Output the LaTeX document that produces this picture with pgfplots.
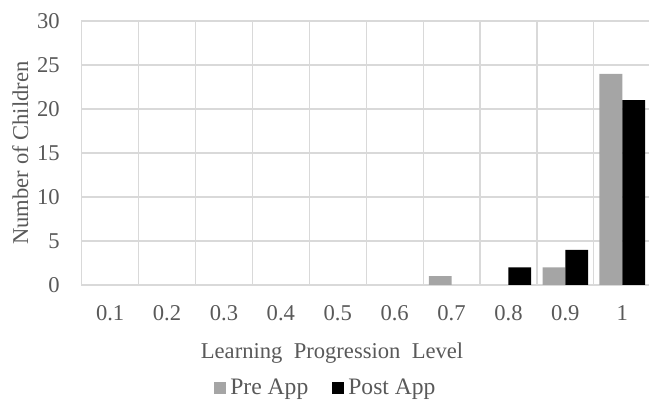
\documentclass[border=0pt]{standalone}
\usepackage{fontspec}
\setmainfont{Liberation Serif}
\usepackage{pgfplots}
\pgfplotsset{compat=1.18}
\definecolor{gridgray}{HTML}{D9D9D9}
\definecolor{txtgray}{HTML}{595959}
\definecolor{pregray}{HTML}{A5A5A5}
\begin{document}
\fontsize{11.3pt}{13.6pt}\selectfont
\begin{tikzpicture}
\path[use as bounding box] (0,0) rectangle (324.5pt,200.5pt);
\begin{axis}[
  at={(40.85pt,58pt)}, anchor=south west,
  scale only axis, width=284.5pt, height=132pt,
  xmin=-0.5, xmax=9.5, ymin=0, ymax=30,
  ytick={0,5,...,30},
  xtick={0,...,9},
  xticklabels={0.1,0.2,0.3,0.4,0.5,0.6,0.7,0.8,0.9,1},
  minor xtick={-0.5,0.5,...,9.5},
  xminorgrids, ymajorgrids,
  grid style={draw=gridgray, line width=0.6pt},
  minor grid style={draw=gridgray, line width=0.6pt},
  axis line style={draw=gridgray, line width=0.6pt},
  major tick length=0pt, minor tick length=0pt,
  tick style={draw=none},
  /pgf/number format/assume math mode=true,
  ticklabel style={font=\fontsize{11.3pt}{13pt}\selectfont, text=txtgray},
  yticklabel style={xshift=-7pt},
  xticklabel style={yshift=-6.2pt},
  xlabel={Learning\hspace{0.5em}Progression\hspace{0.5em}Level},
  ylabel={Number of Children},
  label style={font=\fontsize{11.3pt}{13pt}\selectfont, text=txtgray},
  xlabel style={at={(axis description cs:0.440,-0.258)}, anchor=center},
  ylabel style={at={(axis description cs:-0.080,0.5)}, anchor=south, rotate=0},
  ybar=0pt, bar width=0.4,
  legend columns=2,
  legend style={at={(axis description cs:0.431,-0.39)}, anchor=center, draw=none, fill=none,
    font=\fontsize{11.8pt}{13pt}\selectfont, text=txtgray,
    /tikz/every even column/.append style={column sep=10pt}},
  legend image code/.code={\fill[#1] (0pt,-3pt) rectangle (6pt,3pt);},
]
\addplot[fill=pregray, draw=none] coordinates {(6,1) (8,2) (9,24)};
\addlegendentry{Pre App}
\addplot[fill=black, draw=none] coordinates {(7,2) (8,4) (9,21)};
\addlegendentry{Post App}
\end{axis}
\end{tikzpicture}
\end{document}
